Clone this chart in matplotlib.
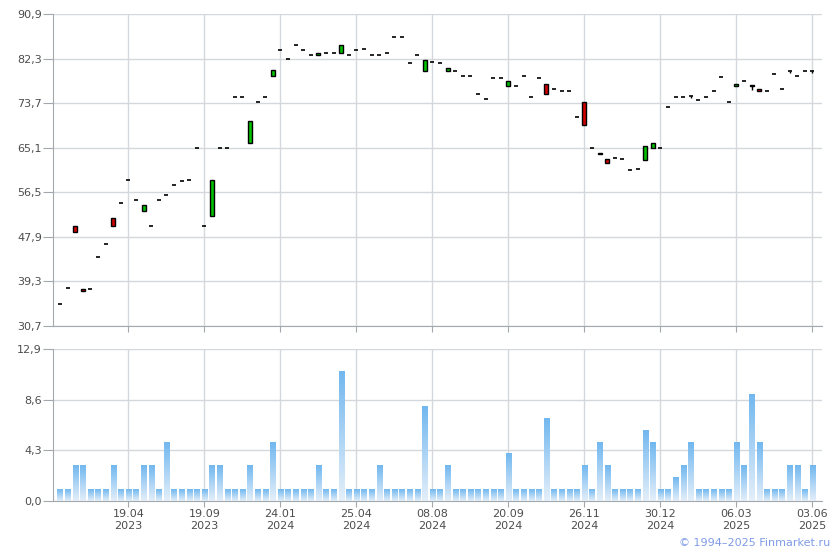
import matplotlib

matplotlib.use("Agg")
import matplotlib.pyplot as plt
import numpy as np
from matplotlib.colors import LinearSegmentedColormap
from matplotlib.patches import Rectangle

# price per bar (open / close), one bar per trading day shown
opens = [35.0, 38.0, 49.9, 37.8, 37.85, 44.0, 46.5, 51.5, 54.5, 58.8,
         55.0, 52.9, 50.0, 55.0, 56.0, 57.9, 58.6, 58.8, 65.1, 50.0,
         51.9, 65.1, 65.1, 74.9, 74.9, 66.0, 73.9, 74.9, 78.9, 84.0,
         82.3, 85.0, 84.0, 83.0, 83.0, 83.4, 83.4, 83.4, 83.0, 84.0,
         84.1, 83.0, 83.0, 83.4, 86.5, 86.5, 81.4, 83.0, 79.9, 81.6,
         81.4, 79.9, 79.9, 78.9, 78.9, 75.4, 74.5, 78.5, 78.5, 77.0,
         77.0, 78.9, 74.9, 78.5, 77.3, 76.4, 76.0, 76.0, 71.0, 73.9,
         65.1, 64.0, 62.9, 63.1, 62.9, 60.8, 61.0, 62.8, 65.1, 65.1,
         72.9, 74.9, 74.9, 75.0, 74.3, 74.9, 76.0, 78.7, 73.9, 77.0,
         78.0, 77.2, 76.5, 76.0, 79.3, 76.4, 79.9, 78.9, 79.9, 79.9]
closes = [35.0, 38.0, 48.8, 37.5, 37.85, 44.0, 46.5, 50.0, 54.5, 58.8,
          55.0, 54.0, 50.0, 55.0, 56.0, 57.9, 58.6, 58.8, 65.1, 50.0,
          58.8, 65.1, 65.1, 74.9, 74.9, 70.3, 73.9, 74.9, 80.0, 84.0,
          82.3, 85.0, 84.0, 83.0, 83.4, 83.4, 83.4, 84.9, 83.0, 84.0,
          84.1, 83.0, 83.0, 83.4, 86.5, 86.5, 81.4, 83.0, 82.0, 81.6,
          81.4, 80.5, 79.9, 78.9, 78.9, 75.4, 74.5, 78.5, 78.5, 78.0,
          77.0, 78.9, 74.9, 78.5, 75.4, 76.4, 76.0, 76.0, 71.0, 69.4,
          65.1, 63.8, 62.1, 63.1, 62.9, 60.8, 61.0, 65.4, 66.0, 65.1,
          72.9, 74.9, 74.9, 75.0, 74.3, 74.9, 76.0, 78.7, 73.9, 77.4,
          78.0, 76.95, 75.95, 76.0, 79.3, 76.4, 79.9, 78.9, 79.9, 79.9]
# lower shadows where visible
low_wicks = {83: 74.6, 91: 76.2, 96: 79.5, 99: 79.6}

volumes = [1, 1, 3, 3, 1, 1, 1, 3, 1, 1,
           1, 3, 3, 1, 5, 1, 1, 1, 1, 1,
           3, 3, 1, 1, 1, 3, 1, 1, 5, 1,
           1, 1, 1, 1, 3, 1, 1, 11, 1, 1,
           1, 1, 3, 1, 1, 1, 1, 1, 8, 1,
           1, 3, 1, 1, 1, 1, 1, 1, 1, 4,
           1, 1, 1, 1, 7, 1, 1, 1, 1, 3,
           1, 5, 3, 1, 1, 1, 1, 6, 5, 1,
           1, 2, 3, 5, 1, 1, 1, 1, 1, 5,
           3, 9, 5, 1, 1, 1, 3, 3, 1, 3]

tick_idx = [9, 19, 29, 39, 49, 59, 69, 79, 89, 99]
tick_dates = ["19.04\n2023", "19.09\n2023", "24.01\n2024", "25.04\n2024", "08.08\n2024",
              "20.09\n2024", "26.11\n2024", "30.12\n2024", "06.03\n2025", "03.06\n2025"]

price_ticks = [30.7, 39.3, 47.9, 56.5, 65.1, 73.7, 82.3, 90.9]
vol_ticks = [0.0, 4.3, 8.6, 12.9]

GRID = "#d4d7db"
SPINE = "#a3a7ae"
LABEL = "#4d4d4d"
GREEN = "#00c000"
RED = "#d00000"

W, H = 840, 550
fig = plt.figure(figsize=(W / 100, H / 100), dpi=100, facecolor="white")
ax = fig.add_axes([53 / W, 1 - 326 / H, (822 - 53) / W, (326 - 14) / H])
axv = fig.add_axes([53 / W, 1 - 501 / H, (822 - 53) / W, (501 - 349) / H])

x = np.arange(len(opens))
xlim = (-0.92, 100.26)


def comma(v):
    return f"{v:.1f}".replace(".", ",")


def style(a, yticks):
    a.set_xlim(*xlim)
    a.set_ylim(yticks[0], yticks[-1])
    a.set_yticks(yticks)
    a.set_yticklabels([comma(t) for t in yticks])
    a.set_xticks(tick_idx)
    for s in ("top", "right"):
        a.spines[s].set_visible(False)
    a.spines["left"].set_color(SPINE)
    a.spines["bottom"].set_color(SPINE)
    a.grid(True, color=GRID, linewidth=1)
    a.set_axisbelow(True)
    a.tick_params(axis="y", colors=SPINE, labelcolor=LABEL, labelsize=8, length=7, pad=1)
    a.tick_params(axis="x", colors=SPINE, labelcolor=LABEL, labelsize=8, length=4, pad=2)


style(ax, price_ticks)
ax.set_xticklabels([])

# candles
half = 0.27
for i in x:
    o, c = opens[i], closes[i]
    if i in low_wicks:
        ax.vlines(i, low_wicks[i], min(o, c), color="black", linewidth=1, zorder=3)
    if abs(o - c) < 0.05:
        ax.hlines(o, i - half, i + half, color="black", linewidth=1.2, zorder=4)
    else:
        col = GREEN if c > o else RED
        ax.add_patch(Rectangle((i - half, min(o, c)), 2 * half, abs(c - o),
                               facecolor=col, edgecolor="black", linewidth=1, zorder=4))

# volume bars with vertical gradient
style(axv, vol_ticks)
axv.set_xticklabels(tick_dates, linespacing=1.15)
cmap = LinearSegmentedColormap.from_list("vol", ["#e4effa", "#72b8ef"])
grad = np.linspace(0, 1, 64).reshape(-1, 1)
bw = 0.35
for i, v in zip(x, volumes):
    axv.imshow(grad, extent=[i - bw, i + bw, 0, v], origin="lower", cmap=cmap,
               aspect="auto", zorder=2, interpolation="nearest")
axv.set_xlim(*xlim)
axv.set_ylim(0, 12.9)

fig.text(830 / W, 1 - 543 / H, "\u00a9 1994\u20132025 Finmarket.ru", color="#7f9be6",
         fontsize=8, ha="right", va="center")

fig.savefig("out.png", dpi=100, facecolor="white")
